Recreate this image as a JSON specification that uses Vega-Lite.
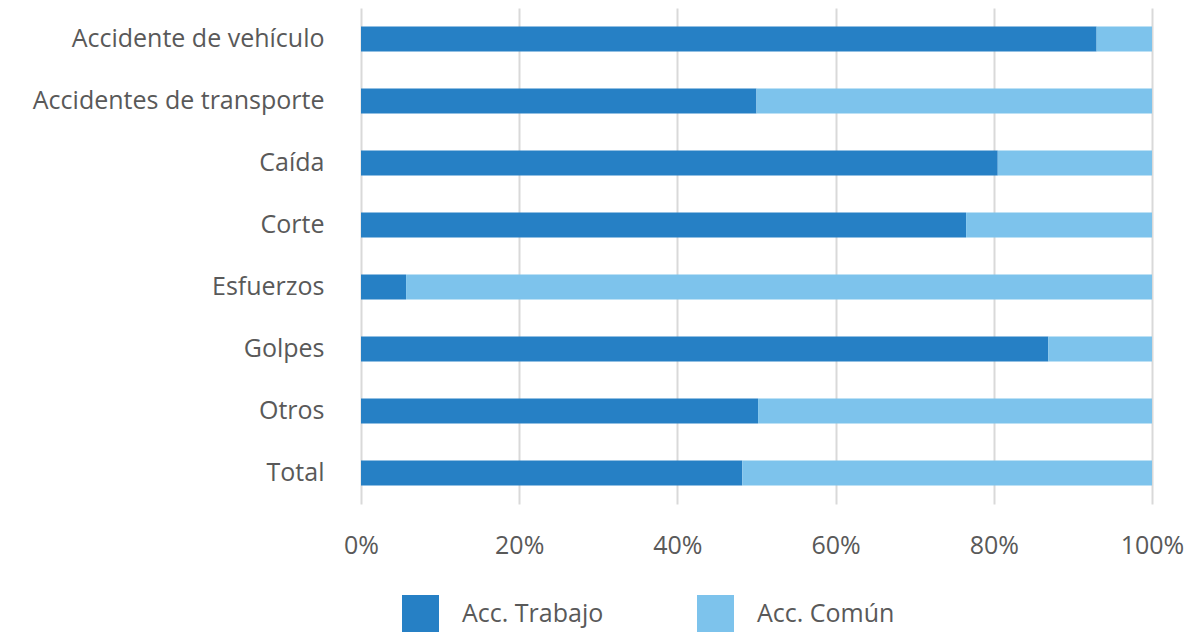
{
  "$schema": "https://vega.github.io/schema/vega-lite/v6.json",
  "width": 791,
  "height": 496,
  "autosize": "none",
  "padding": {"left": 361, "top": 8, "right": 37, "bottom": 128},
  "background": "white",
  "data": {
    "values": [
      {"causa": "Accidente de vehículo", "tipo": "Acc. Trabajo", "orden": 1, "valor": 93.0},
      {"causa": "Accidente de vehículo", "tipo": "Acc. Común", "orden": 2, "valor": 7.0},
      {"causa": "Accidentes de transporte", "tipo": "Acc. Trabajo", "orden": 1, "valor": 50.0},
      {"causa": "Accidentes de transporte", "tipo": "Acc. Común", "orden": 2, "valor": 50.0},
      {"causa": "Caída", "tipo": "Acc. Trabajo", "orden": 1, "valor": 80.5},
      {"causa": "Caída", "tipo": "Acc. Común", "orden": 2, "valor": 19.5},
      {"causa": "Corte", "tipo": "Acc. Trabajo", "orden": 1, "valor": 76.5},
      {"causa": "Corte", "tipo": "Acc. Común", "orden": 2, "valor": 23.5},
      {"causa": "Esfuerzos", "tipo": "Acc. Trabajo", "orden": 1, "valor": 5.7},
      {"causa": "Esfuerzos", "tipo": "Acc. Común", "orden": 2, "valor": 94.3},
      {"causa": "Golpes", "tipo": "Acc. Trabajo", "orden": 1, "valor": 86.9},
      {"causa": "Golpes", "tipo": "Acc. Común", "orden": 2, "valor": 13.1},
      {"causa": "Otros", "tipo": "Acc. Trabajo", "orden": 1, "valor": 50.2},
      {"causa": "Otros", "tipo": "Acc. Común", "orden": 2, "valor": 49.8},
      {"causa": "Total", "tipo": "Acc. Trabajo", "orden": 1, "valor": 48.2},
      {"causa": "Total", "tipo": "Acc. Común", "orden": 2, "valor": 51.8}
    ]
  },
  "mark": {"type": "bar"},
  "encoding": {
    "y": {
      "field": "causa",
      "type": "nominal",
      "sort": ["Accidente de vehículo", "Accidentes de transporte", "Caída", "Corte", "Esfuerzos", "Golpes", "Otros", "Total"],
      "scale": {"paddingInner": 0.6, "paddingOuter": 0.3},
      "axis": {
        "title": null,
        "domain": false,
        "ticks": false,
        "labelPadding": 37,
        "labelFont": "Open Sans",
        "labelFontSize": 25,
        "labelColor": "#595959",
        "labelLimit": 400
      }
    },
    "x": {
      "field": "valor",
      "type": "quantitative",
      "stack": "normalize",
      "scale": {"domain": [0, 1]},
      "axis": {
        "title": null,
        "format": "%",
        "values": [0, 0.2, 0.4, 0.6, 0.8, 1],
        "domain": false,
        "ticks": false,
        "grid": true,
        "gridColor": "#d9d9d9",
        "gridWidth": 2,
        "labelPadding": 29,
        "labelFont": "Open Sans",
        "labelFontSize": 25,
        "labelColor": "#595959",
        "labelFlush": false
      }
    },
    "color": {
      "field": "tipo",
      "type": "nominal",
      "scale": {"domain": ["Acc. Trabajo", "Acc. Común"], "range": ["#2680C5", "#7DC3EC"]},
      "legend": {
        "title": null,
        "orient": "none",
        "direction": "horizontal",
        "legendX": 41,
        "legendY": 587,
        "symbolType": "square",
        "symbolSize": 1369,
        "symbolStrokeWidth": 0,
        "labelOffset": 23,
        "columnPadding": 93,
        "labelFont": "Open Sans",
        "labelFontSize": 25,
        "labelColor": "#595959",
        "labelLimit": 300
      }
    },
    "order": {"field": "orden", "type": "quantitative"}
  },
  "config": {"view": {"stroke": null}}
}
